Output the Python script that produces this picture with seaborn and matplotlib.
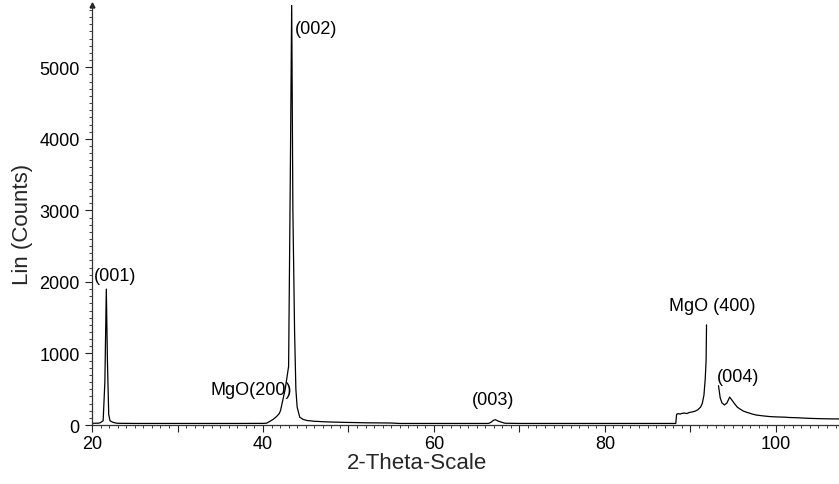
import matplotlib
matplotlib.use("Agg")
import matplotlib.pyplot as plt
import seaborn as sns
import pandas as pd
from matplotlib.ticker import MultipleLocator, FuncFormatter

# ---- data (2-theta in degrees, intensity in counts) ----
theta_a = [20.0, 20.5, 20.8, 21.0, 21.3, 21.5, 21.67, 21.8, 21.95, 22.1, 22.4, 22.7, 23.0,
           25.0, 28.0, 31.0, 34.0, 37.0, 40.0, 40.4, 40.8, 41.2, 41.6, 41.9, 42.05,
           42.6, 43.0, 43.2, 43.36, 43.5, 43.7, 43.85, 44.0, 44.3, 44.7, 45.2, 45.6, 46.0,
           46.5, 47.0, 47.5, 48.0, 48.5, 49.0, 49.5, 50.0, 51.0, 52.0, 53.5, 55.0, 56.0,
           58.0, 61.0, 64.0,
           66.4, 66.7, 67.0, 67.2, 67.5, 67.9, 68.3, 70.0, 74.0, 78.0, 82.0, 86.0,
           88.3, 88.4, 88.6, 88.8, 89.0, 89.3, 89.6, 89.8, 90.0, 90.3, 90.6, 90.9, 91.2, 91.4,
           91.6, 91.75, 91.85, 91.9]
counts_a = [25, 25, 26, 35, 60, 600, 1900, 900, 150, 60, 40, 30, 24,
            22, 22, 22, 22, 22, 23, 25, 50, 80, 120, 160, 200,
            500, 820, 3500, 5900, 3000, 1300, 500, 250, 110, 78, 62, 58, 52,
            50, 46, 44, 42, 40, 39, 37, 36, 34, 31, 30, 28, 22,
            22, 22, 22,
            22, 40, 68, 74, 56, 40, 25, 22, 22, 22, 22, 22,
            22, 150, 160, 152, 162, 168, 160, 172, 178, 185, 195, 215, 250, 300,
            420, 650, 900, 1400]

theta_b = [93.3, 93.5, 93.7, 94.0, 94.3, 94.6, 94.8, 95.2, 95.5, 95.8, 96.2, 96.6,
           96.9, 97.2, 97.7, 98.1, 98.5, 99.3, 99.8, 100.4, 101.0, 101.6, 102.2, 102.8,
           103.4, 104.0, 104.8, 105.5, 106.3, 107.4]
counts_b = [550, 380, 310, 280, 310, 390, 360, 295, 250, 225, 195, 178,
            168, 155, 140, 134, 128, 118, 115, 112, 110, 105, 103, 100,
            96, 93, 90, 88, 86, 85]

annot_text = ["(001)", "(002)", "MgO(200)", "(003)", "MgO (400)", "(004)"]
annot_x = [22.7, 46.2, 38.6, 66.9, 92.6, 95.6]
annot_y = [2083, 5535, 503, 363, 1677, 685]

df = pd.DataFrame({
    "two_theta": theta_a + theta_b,
    "counts": counts_a + counts_b,
    "segment": ["a"] * len(theta_a) + ["b"] * len(theta_b),
})

sns.set_theme(style="ticks")
plt.rcParams["font.family"] = ["Liberation Sans", "DejaVu Sans"]

fig = plt.figure(figsize=(8.39, 4.85), dpi=100)
ax = fig.add_axes([0.1097, 0.1216, 0.8903, 0.866])

sns.lineplot(data=df, x="two_theta", y="counts", units="segment", estimator=None,
             sort=False, color="black", linewidth=0.9, ax=ax, legend=False)

ax.set_xlim(20, 107.4)
ax.set_ylim(0, 5870)

ax.xaxis.set_major_locator(MultipleLocator(10))
ax.xaxis.set_minor_locator(MultipleLocator(1))
ax.xaxis.set_major_formatter(FuncFormatter(lambda v, p: f"{int(round(v))}" if int(round(v)) % 20 == 0 else ""))
ax.yaxis.set_major_locator(MultipleLocator(1000))
ax.yaxis.set_minor_locator(MultipleLocator(100))

ax.tick_params(axis="both", which="major", direction="out", length=5, width=0.8,
               labelsize=13, colors="#222222", labelcolor="black")
ax.tick_params(axis="both", which="minor", direction="out", length=2.5, width=0.6,
               colors="#222222")
ax.tick_params(axis="y", pad=4)
ax.tick_params(axis="x", pad=2)

for s in ["top", "right"]:
    ax.spines[s].set_visible(False)
for s in ["left", "bottom"]:
    ax.spines[s].set_color("#333333")
    ax.spines[s].set_linewidth(0.9)

ax.plot([0], [1], marker="^", color="#222222", markersize=3.5,
        transform=ax.transAxes, clip_on=False)

ax.set_xlabel("2-Theta-Scale", fontsize=16)
ax.set_ylabel("Lin (Counts)", fontsize=16)
ax.xaxis.set_label_coords(0.435, -0.064)
ax.yaxis.set_label_coords(-0.079, 0.479)

for t, x, y in zip(annot_text, annot_x, annot_y):
    ax.text(x, y, t, fontsize=13, ha="center", va="center", color="black")

fig.savefig("out.png", dpi=100)
